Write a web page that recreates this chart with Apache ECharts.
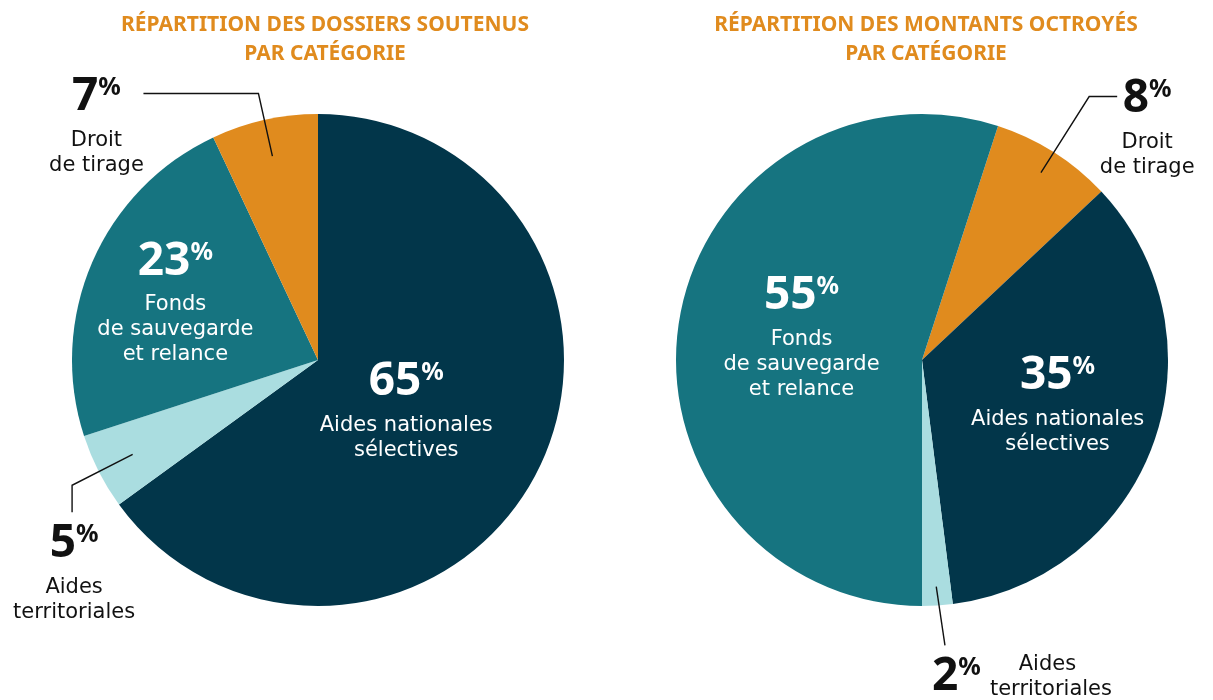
<!DOCTYPE html>
<html><head><meta charset="utf-8">
<script src="https://cdn.jsdelivr.net/npm/echarts@6/dist/echarts.min.js"></script>
<style>html,body{margin:0;padding:0;background:#fff}#chart{width:1213px;height:700px}</style>
</head><body><div id="chart"></div>
<script>
// ---- data ----
const categories = ['Aides nationales sélectives', 'Aides territoriales', 'Fonds de sauvegarde et relance', 'Droit de tirage'];
const categoryLabelLines = [['Aides nationales', 'sélectives'], ['Aides', 'territoriales'], ['Fonds', 'de sauvegarde', 'et relance'], ['Droit', 'de tirage']];
const categoryColors = ['#02364A', '#AADDE0', '#167480', '#E08B1E'];
const dossiersShare = [65, 5, 23, 7];   // % of dossiers, category order
const montantsShare = [35, 2, 55, 8];   // % of amounts, category order
const dossiersOrder = [0, 1, 2, 3];     // clockwise drawing order, left pie
const montantsOrder = [3, 0, 1, 2];     // clockwise drawing order, right pie
const titles = ['RÉPARTITION DES DOSSIERS SOUTENUS\nPAR CATÉGORIE', 'RÉPARTITION DES MONTANTS OCTROYÉS\nPAR CATÉGORIE'];

const NUMFONT = '"Noto Sans", sans-serif';
const TXTFONT = '"DejaVu Sans", sans-serif';
function richSet(color) {
  return {
    n: { fontFamily: NUMFONT, fontSize: 46, fontWeight: 'bold', lineHeight: 62, color, align: 'center', verticalAlign: 'middle' },
    pc: { fontFamily: NUMFONT, fontSize: 25, fontWeight: 'bold', lineHeight: 62, padding: [0, 0, 18, 0], color, align: 'center', verticalAlign: 'middle' },
    t: { fontFamily: TXTFONT, fontSize: 21, lineHeight: 25, color, align: 'center', verticalAlign: 'middle' },
    n2: { fontFamily: NUMFONT, fontSize: 46, fontWeight: 'bold', lineHeight: 25, padding: [24, 0, 0, 0], color, align: 'left', verticalAlign: 'middle' },
    pc2: { fontFamily: NUMFONT, fontSize: 25, fontWeight: 'bold', lineHeight: 25, padding: [6, 0, 0, 0], color, align: 'left', verticalAlign: 'middle' },
    sp: { fontFamily: TXTFONT, fontSize: 21, lineHeight: 25, width: 56, color, align: 'left', verticalAlign: 'middle' },
    t2: { fontFamily: TXTFONT, fontSize: 21, lineHeight: 25, width: 126, color, align: 'center', verticalAlign: 'middle' }
  };
}
function stackedText(v, lines) {
  return '{n|' + v + '}{pc|%}\n' + lines.map(l => '{t|' + l + '}').join('\n');
}
function sideText(v, lines) {
  return '{n2|' + v + '}{pc2|%}{t2|' + lines[0] + '}\n{sp| }{t2|' + lines[1] + '}';
}
// mode: 'inside' | 'outside' | 'side'; layer: 'base' draws sectors + inside labels, 'overlay' draws outside labels + leader lines on top
function makeItems(values, order, modes, lineLens, layer) {
  return order.map((c, k) => {
    const mode = modes[k];
    const inside = mode === 'inside';
    const showLabel = layer === 'base' ? inside : !inside;
    return {
      name: categories[c],
      value: values[c],
      itemStyle: { color: layer === 'base' ? categoryColors[c] : 'rgba(0,0,0,0)' },
      label: {
        show: showLabel,
        position: inside ? 'inside' : 'outside',
        formatter: mode === 'side' ? sideText(values[c], categoryLabelLines[c]) : stackedText(values[c], categoryLabelLines[c]),
        rich: richSet(inside ? '#FFFFFF' : '#111111'),
        distanceToLabelLine: 0
      },
      labelLine: (showLabel && !inside) ? { show: true, length: lineLens[k][0], length2: lineLens[k][1], smooth: false, lineStyle: { color: '#111', width: 1.4 } } : { show: false }
    };
  });
}
function inward(p0, p1, k) {
  const dx = p1[0] - p0[0], dy = p1[1] - p0[1], L = Math.hypot(dx, dy) || 1;
  return [p0[0] - dx / L * k, p0[1] - dy / L * k];
}

const leftModes = ['inside', 'outside', 'inside', 'outside'];
const leftLens = [null, [30, 10], null, [27, 115]];
const rightModes = ['outside', 'inside', 'side', 'inside'];
const rightLens = [[66, 28], null, [40, 0], null];

function leftBaseLayout(p) {
  if (p.dataIndex === 0) return { dx: -24, dy: -10 };
  if (p.dataIndex === 2) return { dx: -27, dy: -11 };
  return {};
}
function leftOverLayout(p) {
  const pts = p.labelLinePoints;
  if (!pts) return {};
  if (p.dataIndex === 3) {
    const a = inward(pts[0], pts[1], 37);
    return { labelLinePoints: [a, pts[1], pts[2]], x: pts[2][0] - 47, y: pts[2][1] - 28, align: 'center', verticalAlign: 'top' };
  }
  if (p.dataIndex === 1) {
    const a = inward(pts[0], pts[1], 38);
    const end = [pts[1][0], pts[1][1] + 27];
    return { labelLinePoints: [a, pts[1], end], x: end[0] + 2, y: end[1] + 1, align: 'center', verticalAlign: 'top' };
  }
  return {};
}
function rightBaseLayout(p) {
  if (p.dataIndex === 1) return { dx: 17, dy: -2 };
  if (p.dataIndex === 3) return { dx: 4, dy: -7 };
  return {};
}
function rightOverLayout(p) {
  const pts = p.labelLinePoints;
  if (!pts) return {};
  if (p.dataIndex === 0) {
    const a = inward(pts[0], pts[1], 24);
    return { labelLinePoints: [a, pts[1], pts[2]], x: pts[2][0] + 30, y: pts[2][1] - 29, align: 'center', verticalAlign: 'top' };
  }
  if (p.dataIndex === 2) {
    const a = inward(pts[0], pts[1], 19);
    const b = [pts[1][0] + 5, pts[1][1]];
    return { labelLinePoints: [a, b], x: b[0] - 13, y: b[1] + 7, align: 'left', verticalAlign: 'top' };
  }
  return {};
}
function pieSeries(center, startAngle, items, layoutFn, z) {
  return {
    type: 'pie', center: center, radius: 246, startAngle: startAngle, clockwise: true, z: z,
    avoidLabelOverlap: false, silent: true, animation: false,
    itemStyle: { borderWidth: 0 },
    emphasis: { disabled: true },
    data: items,
    labelLayout: layoutFn
  };
}

const chart = echarts.init(document.getElementById('chart'), null, { renderer: 'canvas' });
chart.setOption({
  backgroundColor: '#FFFFFF',
  animation: false,
  title: titles.map((t, i) => ({
    text: t, left: [320, 921][i], top: 6, textAlign: 'center',
    textStyle: { fontFamily: NUMFONT, fontSize: 21, fontWeight: 'bold', color: '#E08B1E', lineHeight: 29 }
  })),
  series: [
    pieSeries([318, 360], 90, makeItems(dossiersShare, dossiersOrder, leftModes, leftLens, 'base'), leftBaseLayout, 2),
    pieSeries([922, 360], 72, makeItems(montantsShare, montantsOrder, rightModes, rightLens, 'base'), rightBaseLayout, 2),
    pieSeries([318, 360], 90, makeItems(dossiersShare, dossiersOrder, leftModes, leftLens, 'overlay'), leftOverLayout, 5),
    pieSeries([922, 360], 72, makeItems(montantsShare, montantsOrder, rightModes, rightLens, 'overlay'), rightOverLayout, 5)
  ]
});
</script></body></html>
